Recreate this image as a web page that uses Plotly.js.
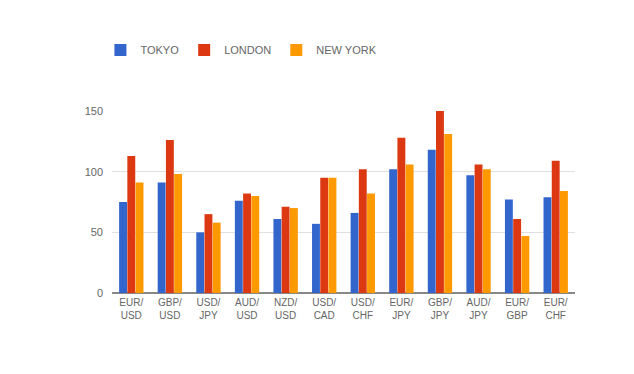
<!DOCTYPE html>
<html>
<head>
<meta charset="utf-8">
<script src="https://cdn.plot.ly/plotly-3.0.1.min.js"></script>
<style>html,body{margin:0;padding:0;background:#fff;}#chart{width:634px;height:374px;}</style>
</head>
<body>
<div id="chart"></div>
<script>
var categories = ["EUR/<br>USD","GBP/<br>USD","USD/<br>JPY","AUD/<br>USD","NZD/<br>USD","USD/<br>CAD","USD/<br>CHF","EUR/<br>JPY","GBP/<br>JPY","AUD/<br>JPY","EUR/<br>GBP","EUR/<br>CHF"];
var tokyo   = [75, 91, 50, 76, 61, 57, 66, 102, 118, 97, 77, 79];
var london  = [113, 126, 65, 82, 71, 95, 102, 128, 150, 106, 61, 109];
var newyork = [91, 98, 58, 80, 70, 95, 82, 106, 131, 102, 47, 84];
var seriesNames = ["TOKYO","LONDON","NEW YORK"];
var colors = ["#3366cc","#dc3912","#ff9900"];
var yTicks = [0, 50, 100, 150];

var data = [tokyo, london, newyork].map(function(v, i){
  return {type:"bar", x:categories, y:v, name:seriesNames[i], marker:{color:colors[i]}};
});
var layout = {
  width:634, height:374,
  margin:{l:112, r:59, t:111, b:81},
  paper_bgcolor:"#fff", plot_bgcolor:"#fff",
  font:{family:"Liberation Sans, Arial, sans-serif", size:11, color:"#666"},
  barmode:"group", bargap:0.36, bargroupgap:0.04,
  showlegend:true,
  legend:{orientation:"h", x:-0.025, xanchor:"left", y:1.335, yanchor:"middle", font:{size:11, color:"#666"}, itemwidth:30},
  xaxis:{tickangle:0, showgrid:false, ticks:"", showline:false, zeroline:false, ticklabelstandoff:2, tickfont:{size:10, color:"#666"}},
  yaxis:{range:[0,150], tickvals:yTicks, gridcolor:"#e0e0e0", zeroline:true, zerolinecolor:"#888", zerolinewidth:1.5, ticks:"", ticklen:0, ticklabelstandoff:8, tickfont:{size:11, color:"#666"}, automargin:false}
};
Plotly.newPlot("chart", data, layout, {staticPlot:true});
</script>
</body>
</html>
